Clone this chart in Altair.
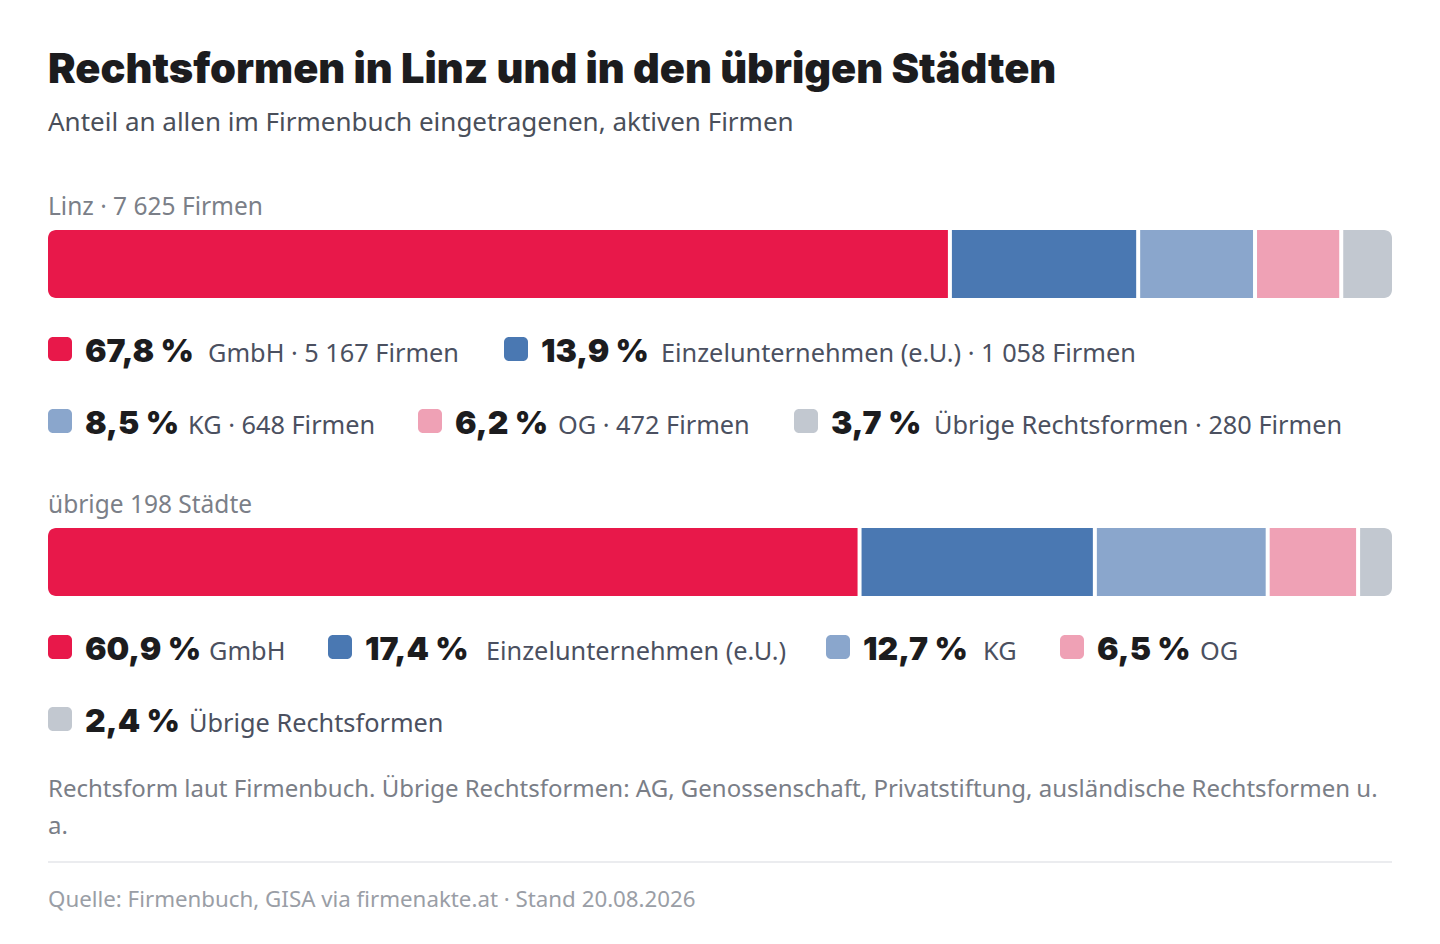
import altair as alt
import pandas as pd

# ---------------- data ----------------
categories = ["GmbH", "Einzelunternehmen (e.U.)", "KG", "OG", "Übrige Rechtsformen"]
colors = ["#E8184A", "#4A78B2", "#8AA6CC", "#EFA1B5", "#C2C8D0"]

groups = ["Linz", "übrige 198 Städte"]
group_titles = ["Linz · 7 625 Firmen", "übrige 198 Städte"]

linz_pct = [67.8, 13.9, 8.5, 6.2, 3.7]
linz_count = [5167, 1058, 648, 472, 280]
other_pct = [60.9, 17.4, 12.7, 6.5, 2.4]

title = "Rechtsformen in Linz und in den übrigen Städten"
subtitle = "Anteil an allen im Firmenbuch eingetragenen, aktiven Firmen"
footnote = ["Rechtsform laut Firmenbuch. Übrige Rechtsformen: AG, Genossenschaft, Privatstiftung, ausländische Rechtsformen u.",
            "a."]
source = "Quelle: Firmenbuch, GISA via firmenakte.at · Stand 20.08.2026"

# ---------------- layout (pixels, plot-area coordinates) ----------------
W = 1344
H = 742
GAP = 4
BAR_TOP = [50, 348]
BAR_H = 68
GROUP_LABEL_Y = [35, 333]
# legend rows: (swatch x, label x, baseline y) per item, per group
LEG_LINZ = [(0, 160, 182), (456, 613, 182), (0, 140, 254), (370, 510, 254), (746, 886, 254)]
LEG_OTHER = [(0, 161, 480), (280, 438, 480), (778, 935, 480), (1012, 1152, 480), (0, 141, 552)]
FOOT_Y = 617
RULE_Y = 682
SOURCE_Y = 727

TITLE_FONT = "Inter"
BODY_FONT = "Noto Sans"


def fmt(v):
    return f"{v:.1f}".replace(".", ",") + " %"


def fmt_int(n):
    return f"{n:,}".replace(",", " ")


# ---------------- bar table ----------------
g = GAP / (W - 4 * GAP)  # gap in share units
rows = []
for gi, (grp, vals) in enumerate(zip(groups, [linz_count, other_pct])):
    tot = sum(vals)
    cum = 0.0
    for i, (cat, v) in enumerate(zip(categories, vals)):
        share = v / tot
        rows.append(dict(group=grp, category=cat, idx=i,
                         x0=cum + i * g, x1=cum + share + i * g,
                         ytop=BAR_TOP[gi], ybot=BAR_TOP[gi] + BAR_H))
        cum += share
bars = pd.DataFrame(rows)

color_scale = alt.Scale(domain=categories, range=colors)
xscale = alt.Scale(domain=[0, 1 + 4 * g], range=[0, W])

base_bar = alt.Chart(bars).encode(
    x=alt.X("x0:Q", scale=xscale, axis=None),
    x2="x1:Q",
    y=alt.Y("ytop:Q", scale=None, axis=None),
    y2="ybot:Q",
    color=alt.Color("category:N", scale=color_scale, legend=None),
)
bar_first = base_bar.transform_filter("datum.idx == 0").mark_bar(
    cornerRadiusTopLeft=8, cornerRadiusBottomLeft=8)
bar_mid = base_bar.transform_filter("datum.idx > 0 && datum.idx < 4").mark_bar(cornerRadius=0)
bar_last = base_bar.transform_filter("datum.idx == 4").mark_bar(
    cornerRadiusTopRight=8, cornerRadiusBottomRight=8)

# ---------------- legend table ----------------
leg_rows = []
for i, cat in enumerate(categories):
    sx, lx, by = LEG_LINZ[i]
    leg_rows.append(dict(category=cat, pct=fmt(linz_pct[i]),
                         label=f"{cat} · {fmt_int(linz_count[i])} Firmen",
                         sx=sx, lx=lx, by=by))
for i, cat in enumerate(categories):
    sx, lx, by = LEG_OTHER[i]
    leg_rows.append(dict(category=cat, pct=fmt(other_pct[i]), label=cat,
                         sx=sx, lx=lx, by=by))
leg = pd.DataFrame(leg_rows)

leg_base = alt.Chart(leg)
swatch = leg_base.transform_calculate(
    sx2="datum.sx + 24", sy="datum.by - 25", sy2="datum.by - 1"
).mark_rect(cornerRadius=5).encode(
    x=alt.X("sx:Q", scale=None, axis=None), x2="sx2:Q",
    y=alt.Y("sy:Q", scale=None, axis=None), y2="sy2:Q",
    color=alt.Color("category:N", scale=color_scale, legend=None),
)
pct_text = leg_base.transform_calculate(px="datum.sx + 37").mark_text(
    align="left", baseline="alphabetic", font=TITLE_FONT, fontWeight=900,
    fontSize=32, color="#1c1c1e"
).encode(
    x=alt.X("px:Q", scale=None, axis=None),
    y=alt.Y("by:Q", scale=None, axis=None),
    text="pct:N",
)
lab_text = leg_base.mark_text(
    align="left", baseline="alphabetic", font=BODY_FONT, fontSize=25.3,
    color="#4b5060"
).encode(
    x=alt.X("lx:Q", scale=None, axis=None),
    y=alt.Y("by:Q", scale=None, axis=None),
    text="label:N",
)

# ---------------- group labels, footnote, rule, source ----------------
gl = pd.DataFrame(dict(t=group_titles, y=GROUP_LABEL_Y))
group_lab = alt.Chart(gl).mark_text(
    align="left", baseline="alphabetic", font=BODY_FONT, fontSize=24.5, color="#7b7f88"
).encode(x=alt.value(0), y=alt.Y("y:Q", scale=None, axis=None), text="t:N")

foot = alt.Chart(pd.DataFrame({"t": [footnote]})).mark_text(
    align="left", baseline="alphabetic", font=BODY_FONT, fontSize=24,
    color="#7a7e87", lineHeight=37
).encode(x=alt.value(0), y=alt.value(FOOT_Y), text="t")

rule = alt.Chart(pd.DataFrame({"a": [0]})).mark_rule(color="#e4e6ea", strokeWidth=1.5).encode(
    x=alt.value(0), x2=alt.value(W), y=alt.value(RULE_Y))

src = alt.Chart(pd.DataFrame({"t": [source]})).mark_text(
    align="left", baseline="alphabetic", font=BODY_FONT, fontSize=22.3, color="#9a9ea6"
).encode(x=alt.value(0), y=alt.value(SOURCE_Y), text="t:N")

chart = alt.layer(
    bar_first, bar_mid, bar_last, swatch, pct_text, lab_text, group_lab, foot, rule, src
).resolve_scale(x="independent", y="independent").properties(
    width=W, height=H,
    title=alt.TitleParams(
        text=title, subtitle=subtitle, anchor="start", frame="group",
        font=TITLE_FONT, fontSize=41.5, fontWeight=900, color="#1c1c1e",
        subtitleFont=BODY_FONT, subtitleFontSize=26, subtitleColor="#4a4f5a",
        subtitlePadding=19, offset=44,
    ),
    padding={"left": 40, "top": 172, "right": 40, "bottom": 10},
    autosize=alt.AutoSizeParams(type="none"),
).configure(background="white").configure_view(strokeWidth=0, stroke="transparent")

chart.save("out.html", embed_options={"renderer": "svg", "actions": False})
